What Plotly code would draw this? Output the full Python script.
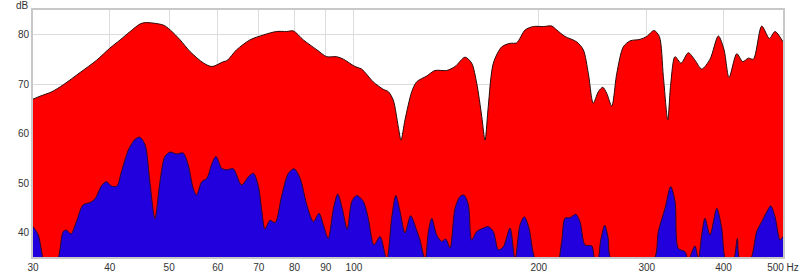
import plotly.graph_objects as go

# Red (upper) response
red_freq = [30.0, 30.8, 32.2, 33.6, 35.8, 38.1, 40.0, 41.6, 43.2, 44.8, 45.7, 48.9, 50.2, 52.1,
            54.1, 56.9, 58.7, 61.3, 62.1, 64.4, 67.7, 71.2, 74.8, 77.7, 79.7, 82.7, 87.0, 90.3,
            93.7, 96.1, 100.4, 102.9, 107.5, 111.6, 113.8, 115.9, 118.1, 119.3, 121.1, 124.2,
            126.5, 131.4, 135.5, 141.6, 146.1, 151.7, 155.5, 158.5, 161.5, 163.5, 165.5, 168.7,
            174.1, 179.6, 184.1, 190.0, 196.0, 203.5, 210.0, 214.0, 220.7, 230.6, 236.4, 240.9,
            245.4, 250.1, 254.3, 258.1, 263.0, 268.0, 274.7, 281.7, 292.4, 299.9, 308.2, 314.4,
            319.2, 324.5, 328.2, 333.5, 341.1, 350.5, 359.4, 368.6, 380.3, 392.3, 400.8, 408.4,
            420.4, 429.9, 439.1, 447.4, 461.7, 475.1, 485.3, 500.0]
red_db = [67.0, 67.6, 68.5, 69.9, 72.4, 74.9, 77.3, 79.0, 80.7, 82.2, 82.5, 82.0, 81.0, 79.0,
          76.6, 74.3, 73.6, 74.6, 74.8, 77.0, 79.0, 80.0, 80.7, 80.7, 80.8, 79.0, 77.0, 75.6,
          75.6, 75.1, 73.6, 73.1, 70.5, 69.0, 68.5, 66.8, 61.4, 58.7, 62.8, 68.5,
          70.5, 71.7, 72.8, 72.8, 73.6, 75.5, 74.3, 70.2, 63.5, 58.7, 65.5, 74.3,
          77.6, 78.3, 78.4, 81.0, 81.7, 81.7, 81.8, 81.0, 79.7, 78.6, 77.0, 72.2,
          66.2, 68.5, 69.4, 68.2, 65.6, 72.2, 77.6, 78.8, 79.1, 79.7, 80.9, 79.7,
          71.6, 62.8, 70.2, 75.6, 74.3, 76.4, 74.9, 73.1, 75.1, 79.8, 77.0, 71.4,
          76.2, 74.6, 75.3, 75.1, 81.8, 79.3, 80.7, 78.6]

# Blue (lower) response
blue_freq = [30.0, 30.6, 31.2, 32.0, 33.0, 33.6, 34.0, 34.6, 35.3, 36.2, 37.2, 37.9, 38.8, 39.5,
             40.3, 41.1, 41.8, 42.9, 44.0, 44.8, 45.7, 46.5, 47.4, 48.3, 49.2, 50.2, 51.4, 52.7,
             53.7, 54.7, 55.4, 56.5, 57.6, 58.7, 59.6, 60.9, 62.1, 63.6, 65.6, 67.3, 68.6, 69.9,
             70.8, 71.6, 73.0, 74.4, 76.3, 78.2, 79.9, 81.7, 83.8, 85.9, 87.7, 89.2, 90.8, 92.6,
             94.1, 95.7, 97.5, 99.2, 101.0, 103.6, 105.5, 107.8, 110.3, 113.1, 115.2, 117.0,
             118.9, 121.1, 123.7, 126.5, 128.1, 130.6, 132.2, 133.9, 136.4, 139.0, 141.1, 143.4,
             146.1, 148.9, 151.1, 153.6, 155.5, 158.5, 162.5, 165.5, 168.7, 171.9, 175.1, 179.6,
             183.0, 186.4, 189.5, 192.8, 196.0, 201.0, 212.6, 218.0, 220.7, 224.9, 229.8, 233.5,
             237.9, 244.0, 247.0, 249.5, 252.4, 256.2, 259.4, 263.0, 307.4, 313.2, 321.2, 328.1,
             333.5, 337.6, 346.2, 350.5, 359.4, 363.9, 368.6, 373.1, 380.3, 390.0, 397.3, 403.8,
             415.0, 421.2, 425.5, 441.8, 453.0, 461.7, 470.5, 477.6, 485.3, 494.5, 500.0]
blue_db = [41.2, 39.5, 34.5, 32.0, 35.0, 40.2, 40.5, 39.7, 42.2, 45.6, 46.1, 46.9, 49.5, 50.3,
           49.4, 49.4, 52.3, 56.7, 58.9, 59.3, 57.7, 50.3, 42.8, 50.3, 55.4, 56.3, 55.9, 56.1,
           53.7, 49.0, 47.6, 50.3, 51.0, 54.0, 55.4, 53.0, 52.7, 52.9, 49.6, 51.3, 52.0, 49.3,
           44.2, 40.7, 42.5, 42.0, 47.6, 52.0, 52.9, 51.0, 45.6, 42.2, 43.9, 41.5, 38.8, 44.9,
           47.8, 44.9, 40.7, 46.3, 47.5, 46.3, 42.9, 37.5, 39.2, 34.5, 42.9, 47.5,
           44.2, 39.9, 43.4, 40.5, 38.5, 34.5, 40.2, 42.9, 39.5, 38.2, 38.7, 36.9,
           44.9, 47.3, 47.6, 45.6, 38.5, 40.2, 40.9, 41.2, 40.2, 36.5, 37.1, 40.9,
           34.5, 41.5, 43.2, 40.9, 35.8, 32.0, 32.0, 38.2, 42.9, 43.0, 43.7, 42.2,
           37.5, 37.3, 34.5, 34.5, 38.5, 41.5, 39.0, 34.5, 34.5, 40.2, 44.9, 49.3,
           46.3, 36.8, 36.1, 34.5, 37.3, 34.5, 39.5, 42.9, 39.5, 44.9, 40.9, 34.5,
           34.5, 38.8, 34.5, 34.5, 40.2, 42.2, 44.2, 45.4, 43.2, 38.5, 39.2]

x_ticks = [30, 40, 50, 60, 70, 80, 90, 100, 200, 300, 400, 500]
x_tick_labels = ["30", "40", "50", "60", "70", "80", "90", "100", "200", "300", "400", "500 Hz"]
y_ticks = [40, 50, 60, 70, 80]

fig = go.Figure()
fig.add_trace(go.Scatter(x=red_freq, y=red_db, mode="lines", fill="tozeroy",
                         fillcolor="#FF0000", line=dict(color="#2a0a0a", width=1,
                         shape="spline", smoothing=0.8), hoverinfo="skip"))
fig.add_trace(go.Scatter(x=blue_freq, y=blue_db, mode="lines", fill="tozeroy",
                         fillcolor="#2200DD", line=dict(color="#2a0a30", width=1,
                         shape="spline", smoothing=0.8), hoverinfo="skip"))

font = dict(family="Liberation Sans, Arial, sans-serif", size=10, color="#333333")
fig.update_layout(
    width=800, height=272,
    margin=dict(l=33, r=17, t=10, b=15, pad=0),
    paper_bgcolor="white", plot_bgcolor="white",
    showlegend=False, font=font,
    xaxis=dict(type="log", range=[1.47712, 2.69897], tickvals=x_ticks, ticktext=x_tick_labels,
               showgrid=True, gridcolor="#DCDCDC", gridwidth=1, showline=True, mirror=True,
               linecolor="#C8C8C8", linewidth=2, ticks="", tickfont=font, automargin=False,
               zeroline=False, fixedrange=True),
    yaxis=dict(range=[35.05, 85.05], tickvals=y_ticks, showgrid=True, gridcolor="#DCDCDC",
               gridwidth=1, showline=True, mirror=True, linecolor="#C8C8C8", linewidth=2,
               ticks="", tickfont=font, automargin=False, zeroline=False, fixedrange=True),
    annotations=[dict(text="dB", xref="paper", yref="paper", x=0, y=1, xanchor="right",
                      yanchor="bottom", xshift=-2, yshift=-3, showarrow=False, font=font)],
)
fig.write_html("out.html")
